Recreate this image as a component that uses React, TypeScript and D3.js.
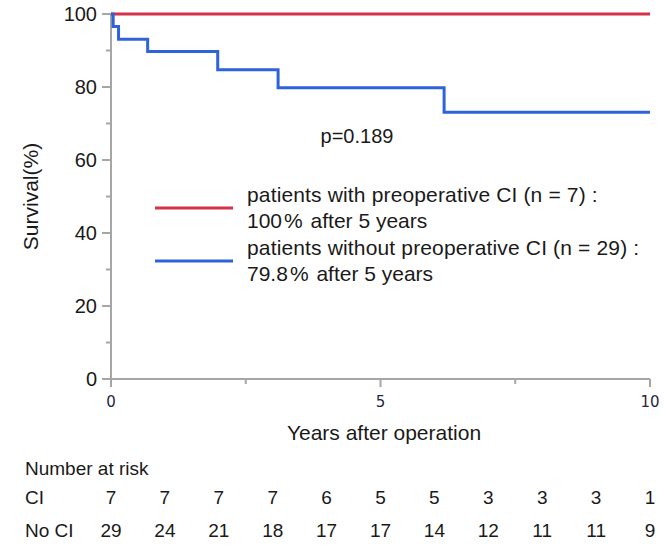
import React from "react";
import * as d3 from "d3";

// Kaplan–Meier step data (time in years, survival in %)
const ciTimes = [0, 10];
const ciSurvival = [100, 100];
const noCiTimes = [0, 0.04, 0.14, 0.68, 1.98, 3.1, 6.18, 10];
const noCiSurvival = [100, 96.6, 93.1, 89.7, 84.7, 79.8, 73.1, 73.1];

const yMajorTicks = [0, 20, 40, 60, 80, 100];
const yMinorTicks = [10, 30, 50, 70, 90];
const xMajorTicks = [0, 5, 10];
const xMinorTicks = [2.5, 7.5];

const riskYears = [0, 1, 2, 3, 4, 5, 6, 7, 8, 9, 10];
const riskCI = [7, 7, 7, 7, 6, 5, 5, 3, 3, 3, 1];
const riskNoCI = [29, 24, 21, 18, 17, 17, 14, 12, 11, 11, 9];

const legendItems = [
  { color: "#d5314a", title: "patients with preoperative CI (n = 7) :", rate: "100" },
  { color: "#2f63da", title: "patients without preoperative CI (n = 29) :", rate: "79.8" },
];

const W = 668;
const H = 546;
const FONT = "Arial, 'Liberation Sans', sans-serif";
const AXIS = "#a6a6a6";
const INK = "#1a1a1a";

export default function App() {
  const x = d3.scaleLinear().domain([0, 10]).range([111, 650]);
  const y = d3.scaleLinear().domain([0, 100]).range([379, 14]);

  const line = d3
    .line<[number, number]>()
    .x((d) => x(d[0]))
    .y((d) => y(d[1]))
    .curve(d3.curveStepAfter);

  const ciPath = line(ciTimes.map((t, i) => [t, ciSurvival[i]]) as [number, number][]) || "";
  const noCiPath = line(noCiTimes.map((t, i) => [t, noCiSurvival[i]]) as [number, number][]) || "";

  const x0 = x(0);
  const y0 = y(0);

  return (
    <svg
      width={W}
      height={H}
      style={{ position: "absolute", left: 0, top: 0, background: "#fff" }}
      fontFamily={FONT}
    >
      {/* y axis */}
      <line x1={x0} x2={x0} y1={y(100)} y2={y0} stroke={AXIS} strokeWidth={2} />
      {yMajorTicks.map((v) => (
        <g key={"ym" + v}>
          <line x1={x0 - 9} x2={x0} y1={y(v)} y2={y(v)} stroke={AXIS} strokeWidth={2} />
          <text x={x0 - 14} y={y(v)} dy="0.35em" textAnchor="end" fontSize={20} fill={INK}>
            {v}
          </text>
        </g>
      ))}
      {yMinorTicks.map((v) => (
        <line key={"yn" + v} x1={x0 - 5} x2={x0} y1={y(v)} y2={y(v)} stroke={AXIS} strokeWidth={2} />
      ))}
      <text
        transform={`translate(38,${y(50)}) rotate(-90)`}
        textAnchor="middle"
        fontSize={21}
        fill={INK}
      >
        Survival(%)
      </text>

      {/* x axis */}
      <line x1={x0 - 9} x2={x(10)} y1={y0} y2={y0} stroke={AXIS} strokeWidth={2} />
      {xMajorTicks.map((v) => (
        <g key={"xm" + v}>
          <line x1={x(v)} x2={x(v)} y1={y0} y2={y0 + 8} stroke={AXIS} strokeWidth={2} />
          <text
            x={x(v)}
            y={407}
            textAnchor="middle"
            fontSize={15}
            fontFamily="'DejaVu Sans', Verdana, sans-serif"
            fill="#1f2740"
          >
            {v}
          </text>
        </g>
      ))}
      {xMinorTicks.map((v) => (
        <line key={"xn" + v} x1={x(v)} x2={x(v)} y1={y0} y2={y0 + 5} stroke={AXIS} strokeWidth={2} />
      ))}
      <text x={384} y={440} textAnchor="middle" fontSize={21} fill={INK}>
        Years after operation
      </text>

      {/* survival curves */}
      <path d={ciPath} fill="none" stroke={legendItems[0].color} strokeWidth={3} />
      <path d={noCiPath} fill="none" stroke={legendItems[1].color} strokeWidth={3} />

      <text x={357} y={143} textAnchor="middle" fontSize={20} fill={INK}>
        p=0.189
      </text>

      {/* legend */}
      {legendItems.map((item, i) => {
        const ly = 208 + i * 53;
        return (
          <g key={"lg" + i}>
            <line x1={155} x2={233} y1={ly} y2={ly} stroke={item.color} strokeWidth={3} />
            <text x={247} y={ly - 6} fontSize={21} fill={INK} letterSpacing={0.15}>
              {item.title}
            </text>
            <text x={247} y={ly + 20} fontSize={21} fill={INK}>
              {item.rate}
              <tspan dx={2}>%</tspan>
              <tspan dx={2}>{" after 5 years"}</tspan>
            </text>
          </g>
        );
      })}

      {/* number at risk table */}
      <text x={25} y={475} fontSize={19} fill={INK}>
        Number at risk
      </text>
      <text x={25} y={504} fontSize={19} fill={INK}>
        CI
      </text>
      <text x={25} y={537} fontSize={19} fill={INK}>
        No CI
      </text>
      {riskYears.map((t, i) => (
        <g key={"r" + t}>
          <text x={x(t)} y={504} textAnchor="middle" fontSize={19} fill={INK}>
            {riskCI[i]}
          </text>
          <text x={x(t)} y={537} textAnchor="middle" fontSize={19} fill={INK}>
            {riskNoCI[i]}
          </text>
        </g>
      ))}
    </svg>
  );
}
